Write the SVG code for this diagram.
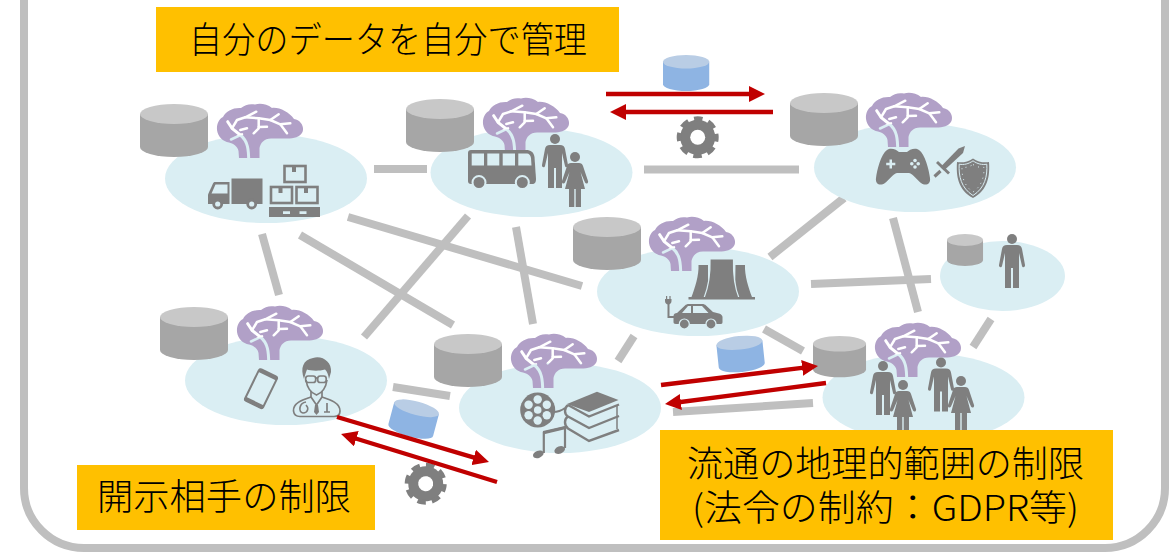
<svg xmlns="http://www.w3.org/2000/svg" width="1170" height="553" viewBox="0 0 1170 553">
<style>
.bar{stroke:#bfbfbf;stroke-width:8;fill:none}
.flow{stroke:#c00000;stroke-width:4.4;fill:none}
.cloud{fill:#daeef3}
.ic{fill:#7f7f7f}
.hl{fill:#daeef3}
.ln{fill:none;stroke:#7f7f7f;stroke-width:2}
.lb{fill:#ffc000}
.t{font-family:"Noto Sans CJK JP","Noto Sans",sans-serif;font-size:36px;font-weight:300;fill:#000}
</style>
<defs>
<marker id="head" markerUnits="userSpaceOnUse" markerWidth="16" markerHeight="16" refX="4" refY="8" orient="auto"><path d="M0 0L16 8L0 16Z" fill="#c00000"/></marker>
<g id="db"><path d="M0 10V43A34 10 0 0 0 68 43V10Z" fill="#a6a6a6"/><ellipse cx="34" cy="10" rx="34" ry="10" fill="#c8c8c8"/></g>
<g id="dbb"><path d="M0 10V43A34 10 0 0 0 68 43V10Z" fill="#8eb4e3"/><ellipse cx="34" cy="10" rx="34" ry="10" fill="#b9cde5"/></g>
<mask id="bm" maskUnits="userSpaceOnUse" x="-5" y="-5" width="100" height="65">
<rect x="-5" y="-5" width="100" height="65" fill="#fff"/>
<g fill="none" stroke="#000" stroke-width="2.500" stroke-linecap="round" stroke-linejoin="round">
<path d="M31.700 58C31.700 46 31 37 23.300 31L15 24.300L10.700 17.700" stroke-width="3"/>
<path d="M15 24.300L20 16L28.300 13.300L39.300 7.700"/>
<path d="M28.300 13.300L41.700 14.300L41.700 24.300L36.700 29.300"/>
<path d="M41.700 23L50 22.700"/>
<path d="M41.700 14.300L53.300 16L61.700 10.300"/>
<path d="M53.300 16L63.300 20.300L70 29.300"/>
<path d="M63.300 20.300L73.300 19.300"/>
<path d="M23.300 26L30 24.300"/>
<path d="M14 35.500L25 30.300"/>
</g>
</mask>
<g id="brain"><path mask="url(#bm)" fill="#b1a0c7" d="M22 54L21.500 47C20.500 42 16 39.500 12 38.500C6 37.500 1 33 0 26C-.5 20 2 15 6 13C9 7 16 3.500 24 4C28 .5 33-.5 38 .5C43-1 50 0 55 4C62 3 72 8 77 15C84 16 87.500 23 85.500 28C83 33 77 34.500 70 34.500L54 34.500C47 34.500 43.500 39 42.500 44L42.500 54Z"/></g>
<g id="man"><circle cx="13" cy="5" r="5" class="ic"/><path class="ic" d="M8 11H18C21 11 22.500 12.500 23 15L26 31C26.300 33.500 23.500 34 23 32L20 19V54H14V34H12V54H6V19L3 32C2.500 34-.3 33.500 0 31L3 15C3.500 12.500 5 11 8 11Z"/></g>
<g id="woman"><circle cx="13" cy="5" r="5" class="ic"/><path class="ic" d="M9 11H17C19 11 20.500 12 21 14L26 29C26.800 31.500 24 32.500 23 30.500L18.500 20L23 37H19V55H13.700V37H12.300V55H7V37H3L7.500 20L3 30.500C2 32.500-.8 31.500 0 29L5 14C5.500 12 7 11 9 11Z"/></g>
<g id="gear"><circle r="17.500" fill="#7f7f7f"/><circle r="18.500" fill="none" stroke="#7f7f7f" stroke-width="5" stroke-dasharray="8.500 6.030" stroke-dashoffset="4.250"/><circle r="7.500" fill="#fff"/></g>
</defs>

<rect id="frame" x="24" y="-100" width="1141" height="648" rx="60" ry="60" fill="#fff" stroke="#bfbfbf" stroke-width="8"/>

<g id="connectors">
<path class="bar" d="M374 169H427"/>
<path class="bar" d="M644 169.500H799"/>
<path class="bar" d="M348 217L582 286"/>
<path class="bar" d="M262 234L279 295"/>
<path class="bar" d="M300 235L453 325"/>
<path class="bar" d="M468 216L364 337"/>
<path class="bar" d="M516 227L533 324"/>
<path class="bar" d="M770 257L844 198"/>
<path class="bar" d="M893 218L918 312"/>
<path class="bar" d="M811 284L931 279"/>
<path class="bar" d="M764 329L803 351"/>
<path class="bar" d="M673 412L813 403"/>
<path class="bar" d="M634 336L618 361"/>
<path class="bar" d="M991 319L973 347"/>
<path class="bar" d="M393 387L450 396"/>
</g>

<g id="node-logistics">
<ellipse class="cloud" cx="266" cy="178.500" rx="101" ry="44.500"/>
<use href="#db" x="140" y="104"/>
<use href="#brain" x="217" y="104"/>
<rect class="ic" x="231.500" y="178.500" width="31" height="25.500"/>
<path class="ic" d="M208 204V194.500L213 183.500C213.500 182.500 214 182 215 182H229.500V204Z"/>
<path class="hl" d="M215.500 184.500H227.500V193.500H211.500Z"/>
<circle cx="217.700" cy="204" r="4" class="hl" stroke="#7f7f7f" stroke-width="2.800"/>
<circle cx="251.700" cy="204" r="4" class="hl" stroke="#7f7f7f" stroke-width="2.800"/>
<g fill="none" stroke="#7f7f7f" stroke-width="2.600">
<rect x="284.500" y="166" width="21" height="16"/><rect x="271" y="187" width="21" height="16"/><rect x="296.500" y="187" width="21" height="16"/>
</g>
<path class="ic" d="M292 166h4v6h-4zM278.500 187h4v6h-4zM304 187h4v6h-4z"/>
<path class="ic" fill-rule="evenodd" d="M269 207H320V217H269ZM283 211.200V214H290V211.200ZM299.500 211.200V214H306.500V211.200Z"/>
</g>

<g id="node-transport">
<ellipse class="cloud" cx="531.500" cy="172.500" rx="101" ry="44.500"/>
<use href="#db" x="406" y="99"/>
<use href="#brain" x="483" y="98"/>
<path class="ic" d="M468 153C468 151 469 150 471 150H526C531 150 533.500 152 534.500 157L536 179C536 182 535 184 532 184H471C469 184 468 183 468 181Z"/>
<path class="hl" d="M471.700 153.500H484V165.500H471.700ZM487.300 153.500H499.300V165.500H487.300ZM502.700 153.500H515V165.500H502.700ZM518.300 153.500H527C529 153.500 530.500 155 531 158L531.500 165.500H518.300Z"/>
<circle cx="479" cy="182.500" r="6.500" class="ic" stroke="#daeef3" stroke-width="2"/>
<circle cx="522.300" cy="182.500" r="6.500" class="ic" stroke="#daeef3" stroke-width="2"/>
<use href="#man" x="542" y="134"/>
<use href="#woman" x="562" y="152"/>
</g>

<g id="node-game">
<ellipse class="cloud" cx="915" cy="167.500" rx="101" ry="44.500"/>
<use href="#db" x="790" y="93"/>
<use href="#brain" x="866" y="93"/>
<path class="ic" d="M887 150C891 147 897 150 899 152H907C909 150 915 147 919 150C925 154 929 170 930 178C931 185 925 186 921 183C917 180 913 174 909 173H897C893 174 889 180 885 183C881 186 875 185 876 178C877 170 881 154 887 150Z"/>
<path class="hl" d="M889.500 159.500H892V162.800H895.300V165.300H892V168.500H889.500V165.300H886.200V162.800H889.500Z"/>
<g class="hl"><circle cx="915" cy="160.500" r="1.800"/><circle cx="915" cy="167" r="1.800"/><circle cx="911.800" cy="163.700" r="1.800"/><circle cx="918.200" cy="163.700" r="1.800"/></g>
<path class="ic" d="M965 146L963 153L944 170.500L940.500 167L958.500 148.500Z"/>
<path class="ic" d="M936 163L938 161L950 172.500L948 174.500Z"/>
<path class="ln" style="stroke-width:3.200" d="M940.500 171L934.500 176.500"/>
<path class="ic" d="M973 158.500C978 162 984 163 989 162C990 176 988 190 973 198C958 190 956 176 957 162C962 163 968 162 973 158.500Z"/>
<path fill="none" stroke="#daeef3" stroke-width="1" d="M973 160.800C977.500 164 982 165 986.800 164.200C987.500 176 985 188 973 195.500C961 188 958.500 176 959.200 164.200C964 165 968.500 164 973 160.800Z"/>
<path fill="none" stroke="#daeef3" stroke-width="1" stroke-dasharray="1 4.500" d="M973 164.500C977 167 980.500 167.800 984 167.300C984.300 176 982 186 973 192C964 186 961.700 176 962 167.300C965.500 167.800 969 167 973 164.500Z"/>
</g>

<g id="node-person">
<ellipse class="cloud" cx="1002.500" cy="276" rx="62.500" ry="35"/>
<use href="#db" transform="translate(947 234) scale(.53 .605)"/>
<use href="#man" x="999" y="234"/>
</g>

<g id="node-energy">
<ellipse class="cloud" cx="698" cy="291.500" rx="101" ry="44.500"/>
<use href="#db" x="573" y="217"/>
<use href="#brain" x="649" y="217"/>
<path class="ic" d="M698.500 265H708V297H691.500C695 288 699 275 698.500 265Z"/>
<path class="ic" d="M735.500 265H745C744.500 275 748.500 288 752 297H735Z"/>
<path class="ic" stroke="#daeef3" stroke-width="1.200" d="M710 259H733.500C733 275 735 288 739 298H704C708 288 710.500 275 710 259Z"/>
<rect class="ic" x="688.500" y="297" width="66.500" height="2.500"/>
<path class="ic" d="M673.500 322V316C673.500 314 675 313 677 313L685 305.500C686 304.500 687 304 689 304H702C704 304 705 304.500 706 305.500L713 312L719 313.500C721 314 722.500 315.500 722.500 317V322C722.500 323 722 324 721 324H676C674 324 673.500 323 673.500 322Z"/>
<path class="hl" d="M682 313L688 306H691V313ZM693 306H702L708.500 313H693Z"/>
<circle cx="684.300" cy="324" r="5" class="ic" stroke="#daeef3" stroke-width="1.200"/>
<circle cx="711" cy="324" r="5" class="ic" stroke="#daeef3" stroke-width="1.200"/>
<path class="ln" d="M674 317H668.500V303"/>
<path class="ic" d="M665 299H666V296H667.200V299H669.400V296H670.600V299H671.500V301C671.500 303 670 304.500 668.300 304.500C666.500 304.500 665 303 665 301Z"/>
</g>

<g id="node-medical">
<ellipse class="cloud" cx="286" cy="380.500" rx="101" ry="44.500"/>
<use href="#db" x="160" y="307"/>
<use href="#brain" x="237" y="306"/>
<g transform="rotate(26 261 388.700)">
<rect x="251" y="371.200" width="20" height="35" rx="2" class="ln"/>
<rect class="ic" x="251" y="371.200" width="20" height="3.500"/>
<rect class="ic" x="251" y="402.500" width="20" height="3.900"/>
</g>
<path class="ic" d="M304 379C300 368 303 360 313 358C322 355 332 362 331 372L329 379C328 374 327 371 325 369.500C318 371.500 310 370.500 307 369.500C306 372 305 375 304 379Z"/>
<g fill="none" stroke="#7f7f7f" stroke-width="1.700">
<path d="M306 380C307 387 311 393 316.500 395C322 393 326 387 327 380"/>
<rect x="305.700" y="376" width="10" height="6.500" rx="2.500"/><rect x="317.700" y="376" width="8.500" height="6.500" rx="2.500"/><path d="M315.700 378H317.700"/>
<path d="M311 391V397M322 391V397"/>
<path d="M311 397C302 400 293 403 293.500 411C294 415 297 416.500 300 416.500H334C337 416.500 340 415 340 411C340 403 331 400 322 397"/>
<path d="M311 397L316.500 405L322 397"/>
<path d="M306 402C299 403 298 412 303 413C308 413 309 408 306 405"/>
<path d="M327 403V412M324 412H330"/>
</g>
<path class="ic" d="M315 405H318L319 412L316.500 415L314 412Z"/>
</g>

<g id="node-media">
<ellipse class="cloud" cx="560" cy="408" rx="101" ry="45"/>
<use href="#db" x="434" y="334"/>
<use href="#brain" x="511" y="334"/>
<circle cx="537.700" cy="410" r="17.500" class="ic"/>
<g class="hl"><circle cx="537.700" cy="410" r="3.800"/><circle cx="537.700" cy="399.500" r="4.200"/><circle cx="537.700" cy="420.500" r="4.200"/><circle cx="528.600" cy="404.700" r="4.200"/><circle cx="546.800" cy="404.700" r="4.200"/><circle cx="528.600" cy="415.300" r="4.200"/><circle cx="546.800" cy="415.300" r="4.200"/></g>
<path class="ln" d="M553 412C558 412 561 411 565 408"/>
<path class="ic" d="M567 404L597 391.700L618.500 400L589 412Z"/>
<g fill="none" stroke="#7f7f7f" stroke-width="2.400">
<path d="M568 405L589 416.500L619 404.500"/>
<path d="M568 405C564 408 564 414 568 416.500L589 428L619 416"/>
<path d="M568 416.500C564 419 564 425 568 428.500L589 441L619 430"/>
<path d="M617 405V416M617 417V429" stroke-width="1.500"/>
</g>
<path class="ln" style="stroke-width:2.200" d="M543.800 453V432.500L565 427.500V448"/>
<path class="ic" d="M543 431L566 425.700V429L543 434.500Z"/>
<ellipse class="ic" cx="538.300" cy="454.300" rx="5.500" ry="3.600" transform="rotate(-20 538.300 454.300)"/>
<ellipse class="ic" cx="559.700" cy="450" rx="5.500" ry="3.600" transform="rotate(-20 559.700 450)"/>
</g>

<g id="node-people">
<ellipse class="cloud" cx="923.500" cy="397.500" rx="101" ry="44.500"/>
<use href="#db" transform="translate(813 336) scale(.78)"/>
<use href="#brain" x="875" y="323"/>
<use href="#man" x="870" y="361"/>
<use href="#woman" x="890" y="380"/>
<use href="#man" x="928" y="357.500"/>
<use href="#woman" x="948" y="376"/>
</g>

<g id="data-exchange">
<use href="#dbb" transform="translate(663 55) scale(.68)"/>
<use href="#dbb" transform="translate(396 395.700) rotate(15) scale(.68)"/>
<use href="#dbb" transform="translate(715.700 338.500) rotate(-6) scale(.68)"/>
<use href="#gear" x="697.700" y="137.300"/>
<use href="#gear" transform="translate(425.700 483.700) rotate(12)"/>
<path class="flow" marker-end="url(#head)" d="M606 94H753"/>
<path class="flow" marker-end="url(#head)" d="M773 112H622"/>
<path class="flow" marker-end="url(#head)" d="M661 385L806.100 367.400"/>
<path class="flow" marker-end="url(#head)" d="M826 383L676.900 402.500"/>
<path class="flow" marker-end="url(#head)" d="M337 417L477.500 458.600"/>
<path class="flow" marker-end="url(#head)" d="M497 482L352.500 437.500"/>
</g>

<g id="label-self">
<rect class="lb" x="156" y="7" width="463" height="65"/>
<text class="t" x="189" y="53" textLength="398" lengthAdjust="spacingAndGlyphs">自分のデータを自分で管理</text>
</g>
<g id="label-recipient">
<rect class="lb" x="77" y="465" width="298" height="65"/>
<text class="t" x="97" y="510" textLength="254" lengthAdjust="spacingAndGlyphs">開示相手の制限</text>
</g>
<g id="label-region">
<rect class="lb" x="660" y="430" width="453" height="110"/>
<text class="t"><tspan x="687" y="477" textLength="397" lengthAdjust="spacingAndGlyphs">流通の地理的範囲の制限</tspan><tspan x="692" y="521" textLength="387" lengthAdjust="spacingAndGlyphs">(法令の制約：GDPR等)</tspan></text>
</g>
</svg>
